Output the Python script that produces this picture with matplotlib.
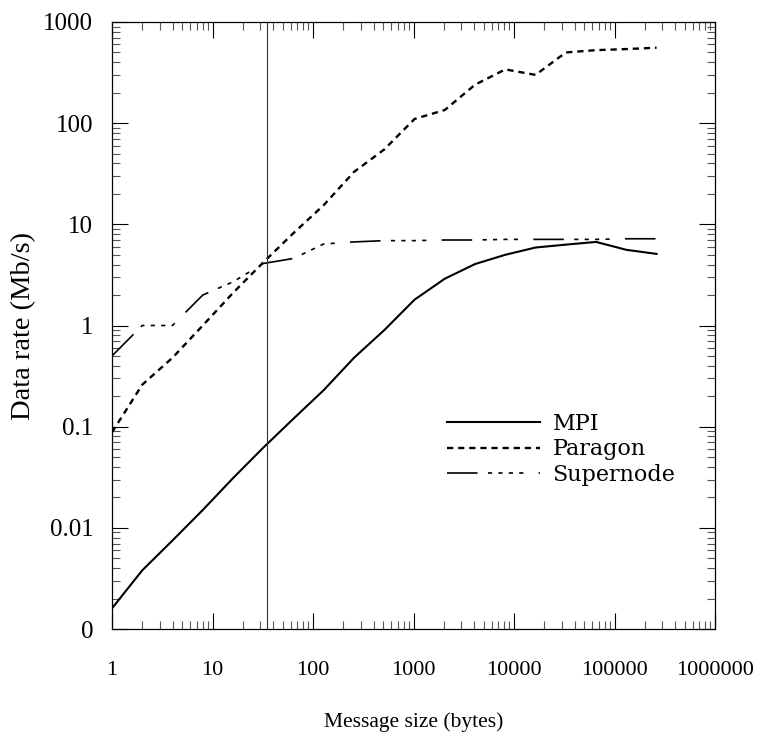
import matplotlib
matplotlib.use("Agg")
import matplotlib.pyplot as plt
from matplotlib.ticker import FixedLocator, FixedFormatter, LogLocator, NullFormatter

plt.rcParams['font.family'] = ['Liberation Serif', 'DejaVu Serif']
plt.rcParams['lines.scale_dashes'] = False

# message sizes (bytes) and data rates (Mb/s)
sizes = [1, 2, 4, 8, 16, 32, 64, 128, 256, 512, 1024, 2048, 4096, 8192,
         16384, 32768, 65536, 131072, 262144]
mpi = [0.0016, 0.0038, 0.0075, 0.015, 0.031, 0.062, 0.12, 0.23, 0.48, 0.9,
       1.8, 2.9, 4.05, 5.0, 5.9, 6.3, 6.7, 5.6, 5.1]
paragon = [0.088, 0.26, 0.48, 1.0, 2.1, 4.2, 8.2, 15.5, 33, 55,
           110, 135, 240, 340, 300, 500, 527, 540, 557]
supernode = [0.5, 1.0, 1.0, 2.0, 2.7, 4.1, 4.6, 6.4, 6.7, 6.9,
             6.9, 7.0, 7.0, 7.1, 7.1, 7.1, 7.1, 7.2, 7.2]
cutoff = 35

x_ticks = [1, 10, 100, 1000, 10000, 100000, 1000000]
x_labels = ['1', '10', '100', '1000', '10000', '100000', '1000000']
y_ticks = [0.001, 0.01, 0.1, 1, 10, 100, 1000]
y_labels = ['0', '0.01', '0.1', '1', '10', '100', '1000']

fig = plt.figure(figsize=(7.75, 7.4), dpi=100)
ax = fig.add_axes([112/775, 111/740, 603/775, 607/740])

ax.plot(sizes, mpi, color='black', lw=1.5, label='MPI')
ax.plot(sizes, paragon, color='black', lw=1.7, dashes=(4.5, 3.5), label='Paragon')
ax.plot(sizes, supernode, color='black', lw=1.2,
        dashes=(22, 7.5, 3, 4.5, 3, 4.5, 3, 4.5, 3, 11), label='Supernode')
ax.axvline(cutoff, color='#333333', lw=0.8)

ax.set_xscale('log')
ax.set_yscale('log')
ax.set_xlim(1, 1e6)
ax.set_ylim(1e-3, 1e3)

ax.xaxis.set_major_locator(FixedLocator(x_ticks))
ax.xaxis.set_major_formatter(FixedFormatter(x_labels))
ax.yaxis.set_major_locator(FixedLocator(y_ticks))
ax.yaxis.set_major_formatter(FixedFormatter(y_labels))
ax.xaxis.set_minor_locator(LogLocator(base=10, subs=range(2, 10), numticks=20))
ax.yaxis.set_minor_locator(LogLocator(base=10, subs=range(2, 10), numticks=20))
ax.xaxis.set_minor_formatter(NullFormatter())
ax.yaxis.set_minor_formatter(NullFormatter())

ax.tick_params(which='both', direction='in', top=True, right=True, width=0.8)
ax.tick_params(which='major', length=11.5)
ax.tick_params(which='minor', length=5.8, color='#555555')
ax.tick_params(axis='x', which='major', labelsize=16, pad=23)
ax.tick_params(axis='y', which='major', labelsize=18, pad=13.5)
for s in ax.spines.values():
    s.set_linewidth(0.9)

ax.set_xlabel('Message size (bytes)', fontsize=15.5, labelpad=23)
ax.set_ylabel('Data rate (Mb/s)', fontsize=20.5, labelpad=5)

ax.legend(loc='upper left', bbox_to_anchor=(447/775, 1 - 413/740),
          bbox_transform=fig.transFigure, frameon=False, borderpad=0,
          borderaxespad=0, handlelength=4.2, handletextpad=0.55,
          labelspacing=0.15, prop={'family': 'DejaVu Serif', 'size': 16})

fig.savefig('out.png', dpi=100)
